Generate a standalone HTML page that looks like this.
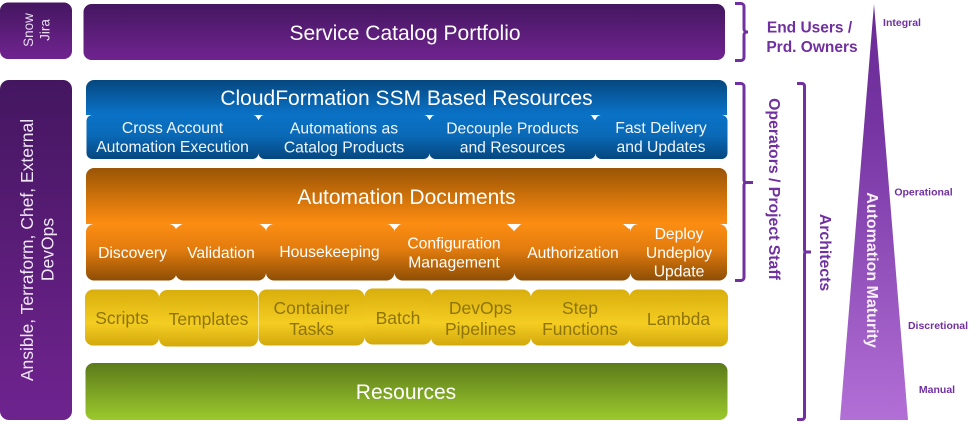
<!DOCTYPE html>
<html><head><meta charset="utf-8"><style>
html,body{margin:0;padding:0;background:#fff;width:969px;height:425px;overflow:hidden}
svg{display:block}
text{font-family:"Liberation Sans",sans-serif;text-anchor:middle}
.w{fill:#fff}
.p{fill:#7030a0;font-weight:bold}
.s{font-size:15.7px;fill:#f0f6fb}
.o{font-size:15.7px;fill:#fff}
.yt{font-size:17.5px;fill:#8f7408}
.b{fill:none;stroke:#7030a0;stroke-width:3}
</style></head><body>
<svg width="969" height="425" viewBox="0 0 969 425" xmlns="http://www.w3.org/2000/svg">
<defs>
<linearGradient id="pu" x1="0" y1="0" x2="0" y2="1"><stop offset="0" stop-color="#441660"/><stop offset=".85" stop-color="#6a2289"/><stop offset="1" stop-color="#6d238e"/></linearGradient>
<linearGradient id="bu" x1="0" y1="0" x2="0" y2="1"><stop offset="0" stop-color="#05477f"/><stop offset=".9" stop-color="#0a6fc2"/><stop offset="1" stop-color="#0a72c6"/></linearGradient>
<linearGradient id="bd" x1="0" y1="0" x2="0" y2="1"><stop offset="0" stop-color="#0a72c6"/><stop offset=".45" stop-color="#0a6ab8"/><stop offset="1" stop-color="#05477f"/></linearGradient>
<linearGradient id="ou" x1="0" y1="0" x2="0" y2="1"><stop offset="0" stop-color="#9a5405"/><stop offset=".95" stop-color="#f98a10"/><stop offset="1" stop-color="#fc8d12"/></linearGradient>
<linearGradient id="od" x1="0" y1="0" x2="0" y2="1"><stop offset="0" stop-color="#fc8d12"/><stop offset=".45" stop-color="#e27c0e"/><stop offset="1" stop-color="#8e4e05"/></linearGradient>
<linearGradient id="ye" x1="0" y1="0" x2="0" y2="1"><stop offset="0" stop-color="#d8ae0c"/><stop offset=".6" stop-color="#f4cd22"/><stop offset="1" stop-color="#d3a90c"/></linearGradient>
<linearGradient id="gr" x1="0" y1="0" x2="0" y2="1"><stop offset="0" stop-color="#5b7a1a"/><stop offset="1" stop-color="#9cc92c"/></linearGradient>
<linearGradient id="tr" x1="0" y1="0" x2="0" y2="1"><stop offset="0" stop-color="#6a2b95"/><stop offset=".3" stop-color="#7635a3"/><stop offset="1" stop-color="#b26fd6"/></linearGradient>
</defs>

<!-- Left side boxes -->
<rect x="0" y="2.5" width="72" height="56.5" rx="8" fill="url(#pu)"/>
<rect x="0" y="80" width="72" height="340" rx="9" fill="url(#pu)"/>
<text transform="translate(33,30) rotate(-90)" font-size="13.5" fill="#e8dcef">Snow</text>
<text transform="translate(49.500,30) rotate(-90)" font-size="13.5" fill="#e8dcef">Jira</text>
<text transform="translate(33,250) rotate(-90)" font-size="17.5" fill="#efe6f4">Ansible, Terraform, Chef, External</text>
<text transform="translate(53.500,249.500) rotate(-90)" font-size="17.5" fill="#efe6f4">DevOps</text>

<!-- Service catalog -->
<rect x="83.5" y="4" width="641.5" height="56" rx="8" fill="url(#pu)"/>
<text class="w" x="405" y="40" font-size="21">Service Catalog Portfolio</text>

<!-- Blue -->
<path d="M86 115V88a8 8 0 0 1 8-8H719a8 8 0 0 1 8 8V115Z" fill="url(#bu)"/>
<rect x="86.500" y="115" width="172" height="44" rx="6" fill="url(#bd)"/>
<rect x="258.500" y="115" width="171" height="44" rx="6" fill="url(#bd)"/>
<rect x="429.500" y="115" width="166" height="44" rx="6" fill="url(#bd)"/>
<rect x="595.500" y="115" width="132" height="44" rx="6" fill="url(#bd)"/>
<path d="M255 115h7l-3.500 5Z M426 115h7l-3.500 5Z M591 115h7l-3.500 5Z" fill="#fff"/>
<text class="w" x="406.500" y="105" font-size="21">CloudFormation SSM Based Resources</text>
<text class="s" x="172.500" y="133">Cross Account</text><text class="s" x="172.500" y="152">Automation Execution</text>
<text class="s" x="344" y="133.500">Automations as</text><text class="s" x="344" y="152.500">Catalog Products</text>
<text class="s" x="512.500" y="133.500">Decouple Products</text><text class="s" x="512.500" y="152.500">and Resources</text>
<text class="s" x="661" y="133">Fast Delivery</text><text class="s" x="661" y="152">and Updates</text>

<!-- Orange -->
<path d="M86 224V176a8 8 0 0 1 8-8H719a8 8 0 0 1 8 8V224Z" fill="url(#ou)"/>
<rect x="86" y="224" width="90.500" height="56.500" rx="8" fill="url(#od)"/>
<rect x="175.500" y="224" width="90.500" height="56.500" rx="8" fill="url(#od)"/>
<rect x="266" y="224" width="128.500" height="56.500" rx="8" fill="url(#od)"/>
<rect x="394.500" y="224" width="120" height="56.500" rx="8" fill="url(#od)"/>
<rect x="514.500" y="224" width="116" height="56.500" rx="8" fill="url(#od)"/>
<rect x="630.500" y="224" width="96.500" height="56.500" rx="8" fill="url(#od)"/>
<path d="M171 224h11l-5.500 4Z M260 224h11l-5.500 5Z M389 224h11l-5.500 6Z M507 224h14l-7 7Z M623 224h12l-6 5Z" fill="#fff"/>
<text class="w" x="406.500" y="204" font-size="21">Automation Documents</text>
<text class="o" x="132.500" y="258">Discovery</text>
<text class="o" x="221" y="258">Validation</text>
<text class="o" x="329.500" y="257">Housekeeping</text>
<text class="o" x="454" y="248.500">Configuration</text><text class="o" x="454" y="267.500">Management</text>
<text class="o" x="573" y="258">Authorization</text>
<text class="o" x="679" y="239">Deploy</text><text class="o" x="679" y="258">Undeploy</text><text class="o" x="679" y="276.500">Update</text>

<!-- Yellow -->
<rect x="85" y="289.500" width="74" height="56" rx="8" fill="url(#ye)"/>
<rect x="159" y="290" width="99" height="56.500" rx="8" fill="url(#ye)"/>
<rect x="258.500" y="289.500" width="106" height="56" rx="8" fill="url(#ye)"/>
<rect x="364.500" y="288.500" width="67" height="56" rx="8" fill="url(#ye)"/>
<rect x="431" y="289.500" width="100" height="56" rx="8" fill="url(#ye)"/>
<rect x="531" y="289.500" width="99" height="56" rx="8" fill="url(#ye)"/>
<rect x="629.500" y="289.500" width="98.500" height="57" rx="8" fill="url(#ye)"/>
<text class="yt" x="122" y="324">Scripts</text>
<text class="yt" x="208.500" y="325">Templates</text>
<text class="yt" x="311.500" y="314">Container</text><text class="yt" x="311.500" y="335">Tasks</text>
<text class="yt" x="398" y="324">Batch</text>
<text class="yt" x="480.500" y="314">DevOps</text><text class="yt" x="480.500" y="335">Pipelines</text>
<text class="yt" x="580" y="314">Step</text><text class="yt" x="580" y="335">Functions</text>
<text class="yt" x="678.500" y="325">Lambda</text>

<!-- Green -->
<rect x="85.500" y="363" width="642" height="57" rx="8" fill="url(#gr)"/>
<text class="w" x="406" y="399" font-size="21">Resources</text>

<!-- Brackets -->
<path class="b" d="M735 3.500h6a3 3 0 0 1 3 3V29a3 3 0 0 0 3 3h1h-1a3 3 0 0 0 -3 3V57.500a3 3 0 0 1 -3 3h-6"/>
<path class="b" d="M735 83.500h6a3 3 0 0 1 3 3V180a2.500 2.500 0 0 0 3 2.500h6h-6a2.500 2.500 0 0 0 -3 2.500V277.500a3 3 0 0 1 -3 3h-6"/>
<path class="b" d="M797 83.500h5a2.500 2.500 0 0 1 2.500 2.500V250a2 2 0 0 0 2 2h4.500h-4.500a2 2 0 0 0 -2 2V417a2.500 2.500 0 0 1 -2.500 2.500h-5"/>

<!-- Bracket labels -->
<text class="p" x="809.500" y="32.500" font-size="15.5">End Users /</text>
<text class="p" x="812" y="52" font-size="15.5">Prd. Owners</text>
<text class="p" transform="translate(769,189) rotate(90)" font-size="15.8">Operators / Project Staff</text>
<text class="p" transform="translate(820,252.500) rotate(90)" font-size="15.8">Architects</text>

<!-- Triangle -->
<path d="M874 4L908 420H840Z" fill="url(#tr)"/>
<text transform="translate(867,270) rotate(90)" font-size="16" font-weight="bold" fill="#f6effa">Automation Maturity</text>
<text class="p" x="902" y="26" font-size="10.5">Integral</text>
<text class="p" x="923.500" y="195.500" font-size="10.5">Operational</text>
<text class="p" x="938" y="329" font-size="10.5">Discretional</text>
<text class="p" x="937" y="393" font-size="10.5">Manual</text>
</svg>
</body></html>
